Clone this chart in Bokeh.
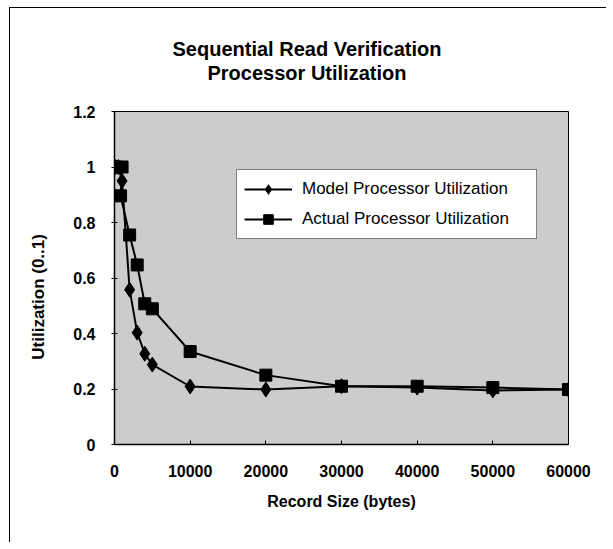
from bokeh.plotting import figure
from bokeh.models import Legend, LegendItem, FixedTicker, Range1d, Title
from bokeh.embed import file_html
from bokeh.resources import INLINE

# Data
model_x = [128, 512, 1000, 2000, 3000, 4000, 5000, 10000, 20000, 30000, 40000, 50000, 60000]
model_y = [1.0, 1.0, 0.95, 0.558, 0.403, 0.327, 0.288, 0.209, 0.198, 0.21, 0.205, 0.195, 0.198]
actual_x = [128, 1000, 800, 2000, 3000, 4000, 5000, 10000, 20000, 30000, 40000, 50000, 60000]
actual_y = [1.0, 1.0, 0.896, 0.755, 0.647, 0.507, 0.489, 0.335, 0.25, 0.21, 0.21, 0.205, 0.198]
x_ticks = [0, 10000, 20000, 30000, 40000, 50000, 60000]
y_ticks = [0, 0.2, 0.4, 0.6, 0.8, 1.0, 1.2]
title_lines = ["Sequential Read Verification", "Processor Utilization"]

FONT = "Liberation Sans"

p = figure(width=597, height=535, output_backend="svg", toolbar_location=None,
           x_range=Range1d(0, 60000), y_range=Range1d(0, 1.2),
           min_border_left=104, min_border_right=39, min_border_top=103, min_border_bottom=99)

p.background_fill_color = "#cccccc"
p.border_fill_color = "white"
p.outline_line_color = "black"
p.outline_line_width = 1
p.grid.visible = False

p.xaxis.ticker = FixedTicker(ticks=x_ticks)
p.yaxis.ticker = FixedTicker(ticks=y_ticks)
p.yaxis.major_label_overrides = {0: "0", 1.0: "1"}
for ax in (p.xaxis, p.yaxis):
    ax.axis_line_color = "black"
    ax.axis_line_width = 1.5
    ax.major_tick_line_color = "black"
    ax.minor_tick_line_color = None
    ax.major_label_text_font = FONT
    ax.major_label_text_font_style = "bold"
    ax.major_label_text_font_size = "16px"
    ax.axis_label_text_font = FONT
    ax.axis_label_text_font_style = "bold"
    ax.axis_label_text_font_size = "16px"
    ax.major_label_text_color = "black"
    ax.axis_label_text_color = "black"

p.yaxis.axis_label_text_font_size = "17px"
p.xaxis.major_tick_in = 4
p.xaxis.major_tick_out = 0
p.yaxis.major_tick_in = 3
p.yaxis.major_tick_out = 3
p.xaxis.major_label_standoff = 20
p.yaxis.major_label_standoff = 16
p.xaxis.axis_label = "Record Size (bytes)"
p.yaxis.axis_label = "Utilization  (0..1)" + "\u00a0" * 7
p.xaxis.axis_label_standoff = 13
p.yaxis.axis_label_standoff = 22

l1 = p.line(model_x, model_y, line_color="black", line_width=2)
m1 = p.scatter(model_x, model_y, marker="diamond", size=15, fill_color="black", line_color="black")
l2 = p.line(actual_x, actual_y, line_color="black", line_width=2)
m2 = p.scatter(actual_x, actual_y, marker="square", size=12, fill_color="black", line_color="black")

legend = Legend(items=[
    LegendItem(label="Model Processor Utilization", renderers=[l1, m1]),
    LegendItem(label="Actual Processor Utilization", renderers=[l2, m2]),
], location=(122, 205))
legend.label_text_font = FONT
legend.label_text_font_size = "17px"
legend.label_text_color = "black"
legend.background_fill_color = "white"
legend.background_fill_alpha = 1
legend.border_line_color = "black"
legend.border_line_width = 1
legend.glyph_width = 48
legend.glyph_height = 24
legend.label_height = 24
legend.label_width = 227
legend.spacing = 6
legend.padding = 7
legend.margin = 0
legend.label_standoff = 10
p.add_layout(legend, "center")

# spacer between frame and title lines
p.add_layout(Title(text="\u00a0", text_font=FONT, text_font_size="10px", standoff=14), "above")
p.add_layout(Title(text=title_lines[1], align="left", offset=93, text_font=FONT,
                   text_font_style="bold", text_font_size="20px", text_color="black",
                   vertical_align="middle", standoff=0), "above")
p.add_layout(Title(text=title_lines[0], align="left", offset=58, text_font=FONT,
                   text_font_style="bold", text_font_size="20px", text_color="black",
                   vertical_align="middle", standoff=0), "above")

p.styles = {"margin-left": "9px", "margin-top": "7px",
            "border-left": "1px solid black", "border-top": "1px solid black"}

open("out.html", "w").write(file_html(p, INLINE))
